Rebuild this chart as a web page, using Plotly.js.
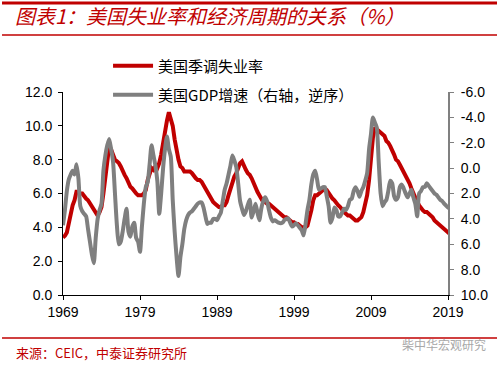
<!DOCTYPE html>
<html>
<head>
<meta charset="utf-8">
<script src="https://cdn.plot.ly/plotly-3.0.1.min.js"></script>
<style>html,body{margin:0;padding:0;background:#fff;}#chart{width:500px;height:366px;}</style>
</head>
<body>
<div id="chart"></div>
<script>
// Years covered (quarterly observations, 4 per year; last year partial)
var years = [1969,1970,1971,1972,1973,1974,1975,1976,1977,1978,1979,1980,1981,1982,1983,1984,1985,1986,1987,1988,1989,1990,1991,1992,1993,1994,1995,1996,1997,1998,1999,2000,2001,2002,2003,2004,2005,2006,2007,2008,2009,2010,2011,2012,2013,2014,2015,2016,2017,2018,2019];

// 美国季调失业率 (%), quarterly
var unemployment = [
 3.4,3.5,3.7,4.3, 4.9,5.3,5.6,6.1, 6.1,6.0,6.0,5.8, 5.7,5.6,5.4,5.2, 5.0,4.8,4.7,4.9,
 5.2,6.0,7.0,7.8, 8.8,8.6,8.2,8.0, 7.9,7.8,7.6,7.3, 7.1,6.9,6.6,6.4, 6.3,6.1,6.0,5.9,
 5.9,5.9,6.0,6.2, 6.8,7.2,7.5,7.4, 7.6,7.5,7.8,8.3, 9.0,9.8,10.3,10.8, 10.4,10.0,9.2,8.5,
 8.0,7.6,7.5,7.3, 7.3,7.3,7.3,7.2, 7.0,6.9,6.8,6.8, 6.7,6.5,6.2,6.0, 5.8,5.6,5.5,5.4,
 5.3,5.2,5.2,5.3, 5.3,5.5,5.9,6.3, 6.7,7.0,7.2,7.5, 7.8,7.9,7.6,7.4, 7.2,7.1,6.9,6.6,
 6.4,6.1,5.9,5.7, 5.5,5.5,5.4,5.4, 5.3,5.2,5.1,5.0, 4.9,4.8,4.7,4.6, 4.6,4.5,4.4,4.3,
 4.3,4.2,4.2,4.1, 4.0,4.0,4.0,4.1, 4.5,5.0,5.6,5.9, 5.9,6.0,6.1,6.2, 6.3,6.2,6.0,5.8,
 5.7,5.6,5.4,5.3, 5.2,5.0,4.9,4.8, 4.7,4.7,4.6,4.5, 4.4,4.4,4.5,4.6, 4.9,5.3,5.9,6.8,
 8.3,9.3,9.9,9.8, 9.7,9.6,9.5,9.4, 9.1,9.0,8.8,8.6, 8.3,8.0,7.9,7.7, 7.5,7.3,7.1,6.8,
 6.6,6.3,6.0,5.7, 5.5,5.3,5.1,5.0, 4.9,4.9,4.8,4.7, 4.6,4.4,4.3,4.2, 4.1,4.0,3.9,3.8,
 3.7,3.6
];

// 美国GDP增速 (% y/y), quarterly, plotted on reversed right axis
var gdpGrowth = [
 4.5,3.3,1.8,0.9, 0.5,0.2,0.5,-0.3, 0.8,3.0,3.4,3.6, 3.8,4.8,5.8,6.8, 7.5,5.5,4.0,3.3,
 2.8,0.2,-1.0,-1.8, -2.3,-1.5,-0.5,2.0, 4.5,6.0,5.8,5.0, 4.0,3.2,5.0,5.4, 4.6,4.3,5.5,5.8,
 6.6,4.6,2.8,1.5, 1.1,-0.3,-1.8,-1.0, -0.2,1.0,3.6,2.0, 0.0,-1.5,-2.5,-1.5, -0.9,2.5,5.0,7.0,
 8.5,7.0,6.0,4.8, 4.1,3.7,3.5,3.4, 3.2,3.0,2.8,2.7, 2.7,3.1,3.8,4.4, 4.3,4.3,4.0,4.0,
 4.1,3.8,3.5,2.6, 1.7,1.2,0.5,-0.2, -1.0,-0.6,-0.1,1.2, 2.6,3.2,3.7,3.4, 2.9,2.5,3.9,3.4,
 2.8,3.5,4.1,3.2, 2.6,2.3,2.6,3.3, 3.9,4.2,4.1,4.2, 4.3,4.35,4.3,4.1, 4.0,3.96,4.3,4.6,
 4.5,4.35,4.5,4.7, 4.9,5.3,4.4,3.3, 2.5,1.3,0.5,0.2, 0.9,1.7,1.6,1.5, 1.5,2.2,3.0,4.3,
 3.9,3.1,3.3,3.8, 3.8,3.5,3.2,3.3, 3.0,2.5,2.4,1.8, 1.5,1.8,2.26,1.8, 1.5,1.0,0.4,-1.5,
 -2.7,-4.0,-3.6,-3.2, -0.5,2.0,3.0,2.7, 2.5,1.8,1.0,1.2, 2.2,2.5,2.3,1.5, 1.3,1.6,2.0,2.3,
 2.0,1.7,2.3,2.8, 3.8,2.0,1.8,1.5, 1.47,1.2,1.4,1.6, 1.8,2.0,2.1,2.3, 2.5,2.6,2.8,2.95,
 3.1,3.2
];

var xTickVals = [1969,1979,1989,1999,2009,2019];
var xTickText = ['1969','1979','1989','1999','2009','2019'];
var yTickVals = [0,2,4,6,8,10,12];
var y2TickVals = [-6,-4,-2,0,2,4,6,8,10];
var y2TickText = ['-6.0','-4.0','-2.0','0.0','2.0','4.0','6.0','8.0','10.0'];

var seriesNames = ['美国季调失业率','美国GDP增速（右轴，逆序）'];
var titleText = '图表1：美国失业率和经济周期的关系（%）';
var sourceText = '来源：CEIC，中泰证券研究所';
var watermarkText = '柴中华宏观研究';

// quarterly time positions
var xq = [];
for (var i = 0; i < years.length; i++) {
  for (var q = 0; q < 4; q++) xq.push(years[i] + q / 4);
}
var xU = xq.slice(0, unemployment.length);
var xG = xq.slice(0, gdpGrowth.length);

var RED = '#C00000', GRAY = '#7F7F7F';
var numFont = 'Liberation Sans, Arial, sans-serif';
var cjk = '"Noto Sans CJK SC", sans-serif';

var traces = [
  {x: xU, y: unemployment, type: 'scatter', mode: 'lines', name: seriesNames[0],
   line: {color: RED, width: 4}, yaxis: 'y', legend: 'legend'},
  {x: xG, y: gdpGrowth, type: 'scatter', mode: 'lines', name: seriesNames[1],
   line: {color: GRAY, width: 4, shape: 'spline', smoothing: 0.6}, yaxis: 'y2', legend: 'legend2'}
];

var layout = {
  width: 500, height: 366,
  margin: {l: 63, r: 52, t: 92, b: 71, pad: 0},
  paper_bgcolor: '#fff', plot_bgcolor: '#fff',
  title: {text: titleText, x: 0.03, xanchor: 'left', y: 0.953, yanchor: 'middle',
          font: {family: cjk, size: 20, color: RED, style: 'italic', weight: 'normal'}},
  xaxis: {range: [1969, 2019], tickvals: xTickVals, ticktext: xTickText,
          ticks: 'outside', ticklen: 4, tickcolor: '#000', showline: true, linecolor: '#000', linewidth: 1,
          showgrid: false, zeroline: false, tickfont: {family: numFont, size: 14, color: '#000'}},
  yaxis: {range: [0, 12], tickvals: yTickVals, tickformat: '.1f', ticklabelstandoff: 3,
          ticks: 'outside', ticklen: 4, tickcolor: '#000', showline: true, linecolor: '#000', linewidth: 1,
          showgrid: false, zeroline: false, tickfont: {family: numFont, size: 14, color: '#000'}},
  yaxis2: {overlaying: 'y', side: 'right', range: [10, -6], tickvals: y2TickVals, ticktext: y2TickText,
          ticklabelstandoff: 4,
          ticks: 'outside', ticklen: 4, tickcolor: '#808080', showline: true, linecolor: '#808080', linewidth: 2,
          showgrid: false, zeroline: false, tickfont: {family: numFont, size: 14, color: '#000'}},
  showlegend: true,
  legend: {x: 0.117, y: 1.128, xanchor: 'left', yanchor: 'middle', bgcolor: 'rgba(0,0,0,0)', itemwidth: 40,
           font: {family: cjk, size: 15, color: '#000'}},
  legend2: {x: 0.117, y: 0.985, xanchor: 'left', yanchor: 'middle', bgcolor: 'rgba(0,0,0,0)', itemwidth: 40,
           font: {family: cjk, size: 15, color: '#000'}},
  shapes: [
    {type: 'line', xref: 'paper', yref: 'paper', x0: -0.1584, x1: 1.1273, y0: 1.4384, y1: 1.4384, line: {color: RED, width: 3}},
    {type: 'line', xref: 'paper', yref: 'paper', x0: -0.1584, x1: 1.1273, y0: 1.2808, y1: 1.2808, line: {color: RED, width: 1.5}},
    {type: 'line', xref: 'paper', yref: 'paper', x0: -0.1584, x1: 1.1273, y0: -0.2118, y1: -0.2118, line: {color: RED, width: 1.5}}
  ],
  annotations: [
    {text: sourceText, xref: 'paper', yref: 'paper', x: -0.127, y: -0.281, xanchor: 'left', yanchor: 'middle',
     showarrow: false, font: {family: cjk, size: 13, color: RED}},
    {text: watermarkText, xref: 'paper', yref: 'paper', x: 0.875, y: -0.246, xanchor: 'left', yanchor: 'middle',
     showarrow: false, font: {family: cjk, size: 12, color: '#A8A8A8'}}
  ]
};

Plotly.newPlot('chart', traces, layout, {staticPlot: true, displayModeBar: false});
</script>
</body>
</html>
